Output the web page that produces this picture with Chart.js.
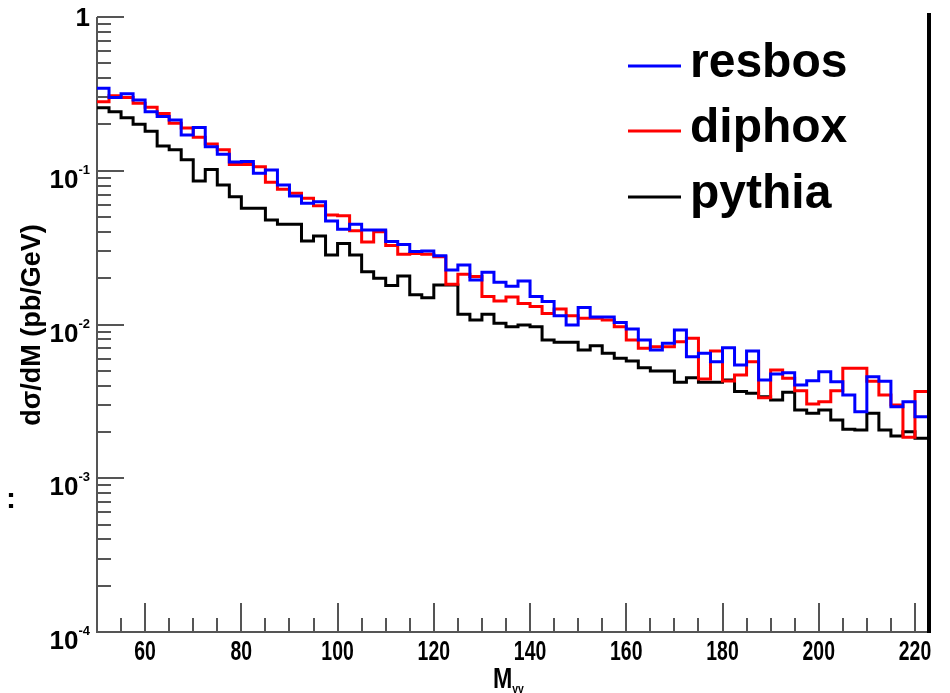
<!DOCTYPE html>
<html>
<head>
<meta charset="utf-8">
<title>Diphoton invariant mass</title>
<script src="https://cdn.jsdelivr.net/npm/chart.js@4.4.1/dist/chart.umd.min.js"></script>
<style>
  body { margin: 0; background: #fff; }
  #wrap { width: 950px; height: 693px; }
</style>
</head>
<body>
<div id="wrap"><canvas id="massChart" width="950" height="693"></canvas></div>
<script>
// histogram binning (GeV)
const massMin = 50;
const massMax = 222.5;
const binWidth = 2.5;

// dsigma/dM per bin
const resbos = [0.344, 0.299, 0.317, 0.289, 0.242, 0.225, 0.214, 0.171, 0.191, 0.143,
  0.128, 0.114, 0.115, 0.0962, 0.101, 0.0808, 0.0685, 0.0614, 0.0629, 0.0471,
  0.0416, 0.0448, 0.0412, 0.0412, 0.0346, 0.0332, 0.0298, 0.0301, 0.0280, 0.0226,
  0.0244, 0.0195, 0.0219, 0.0188, 0.0177, 0.0192, 0.0152, 0.0141, 0.0114, 0.00992,
  0.0129, 0.0112, 0.0112, 0.0103, 0.00935, 0.00793, 0.00683, 0.00755, 0.00921, 0.00618,
  0.00650, 0.00573, 0.00707, 0.00545, 0.00672, 0.00436, 0.00476, 0.00486, 0.00404, 0.00431,
  0.00493, 0.00425, 0.00348, 0.00271, 0.00458, 0.00428, 0.00292, 0.00315, 0.00251];

const diphox = [0.281, 0.308, 0.299, 0.275, 0.259, 0.236, 0.204, 0.190, 0.165, 0.149,
  0.137, 0.110, 0.110, 0.106, 0.0841, 0.0757, 0.0713, 0.0662, 0.0593, 0.0516,
  0.0510, 0.0407, 0.0344, 0.0401, 0.0326, 0.0286, 0.0290, 0.0286, 0.0276, 0.0183,
  0.0212, 0.0205, 0.0152, 0.0142, 0.0151, 0.0137, 0.0131, 0.0118, 0.0126, 0.0114,
  0.0110, 0.0110, 0.0107, 0.00968, 0.00793, 0.00700, 0.00717, 0.00717, 0.00773, 0.00813,
  0.00442, 0.00672, 0.00429, 0.00469, 0.00573, 0.00334, 0.00506, 0.00447, 0.00371, 0.00304,
  0.00315, 0.00371, 0.00519, 0.00519, 0.00428, 0.00348, 0.00300, 0.00185, 0.00366];

const pythia = [0.257, 0.242, 0.221, 0.201, 0.181, 0.145, 0.137, 0.118, 0.0858, 0.102,
  0.0808, 0.0678, 0.0570, 0.0570, 0.0478, 0.0448, 0.0448, 0.0349, 0.0376, 0.0283,
  0.0337, 0.0283, 0.0220, 0.0200, 0.0179, 0.0207, 0.0156, 0.0149, 0.0181, 0.0181,
  0.01165, 0.0107, 0.01165, 0.0102, 0.00968, 0.00992, 0.00968, 0.00793, 0.00766, 0.00766,
  0.00683, 0.00728, 0.00650, 0.00603, 0.00579, 0.00524, 0.00498, 0.00498, 0.00421, 0.00451,
  0.00421, 0.00421, 0.00436, 0.00366, 0.00357, 0.00339, 0.00323, 0.00362, 0.00278, 0.00265,
  0.00278, 0.00239, 0.00208, 0.00206, 0.00265, 0.00206, 0.00188, 0.00201, 0.00182];

// axis ticks and labels
const xMajorTicks = [60, 80, 100, 120, 140, 160, 180, 200, 220];
const xTickLabels = ['60', '80', '100', '120', '140', '160', '180', '200', '220'];
const xMinorTicks = [55, 65, 70, 75, 85, 90, 95, 105, 110, 115, 125, 130, 135, 145, 150, 155,
  165, 170, 175, 185, 190, 195, 205, 210, 215];
const yMajorTicks = [1, 0.1, 0.01, 0.001, 0.0001];
const yTickBase = ['1', '10', '10', '10', '10'];
const yTickExp = ['', '-1', '-2', '-3', '-4'];
const yMinorFactors = [2, 3, 4, 5, 6, 7, 8, 9];

const seriesNames = ['resbos', 'diphox', 'pythia'];
const seriesColors = ['#0000ff', '#ff0000', '#000000'];

// turn bin contents into step points (left edges + closing right edge)
function toSteps(values) {
    const pts = values.map((v, i) => ({ x: massMin + i * binWidth, y: v }));
    pts.push({ x: massMax, y: values[values.length - 1] });
    return pts;
}

const axisGrey = '#555555';
const labelFont = "'Liberation Sans', 'DejaVu Sans', sans-serif";

/* ------------------ FRAME + TICKS (under the histograms) ------------------ */
const rootFrame = {
    id: 'rootFrame',
    beforeDatasetsDraw(chart) {
        const { ctx, chartArea: a, scales: { x, y } } = chart;
        ctx.save();
        ctx.strokeStyle = axisGrey;
        ctx.lineWidth = 2;

        // y ticks (inside, pointing right)
        ctx.beginPath();
        yMajorTicks.forEach(v => {
            const py = Math.round(y.getPixelForValue(v));
            ctx.moveTo(a.left, py);
            ctx.lineTo(a.left + 27, py);
            if (v < 1) {
                yMinorFactors.forEach(f => {
                    const my = Math.round(y.getPixelForValue(v * f));
                    ctx.moveTo(a.left, my);
                    ctx.lineTo(a.left + 14, my);
                });
            }
        });
        // x ticks (inside, pointing up)
        xMajorTicks.forEach(v => {
            const px = Math.round(x.getPixelForValue(v));
            ctx.moveTo(px, a.bottom);
            ctx.lineTo(px, a.bottom - 29);
        });
        xMinorTicks.forEach(v => {
            const px = Math.round(x.getPixelForValue(v));
            ctx.moveTo(px, a.bottom);
            ctx.lineTo(px, a.bottom - 14);
        });
        ctx.stroke();

        // left + bottom axis lines
        ctx.beginPath();
        ctx.moveTo(a.left, a.top);
        ctx.lineTo(a.left, a.bottom);
        ctx.lineTo(a.right, a.bottom);
        ctx.stroke();
        ctx.restore();
    },

    /* ------------------ LABELS, LEGEND, RIGHT BORDER ------------------ */
    afterDraw(chart) {
        const { ctx, chartArea: a, scales: { x, y } } = chart;
        ctx.save();

        // thick right border
        ctx.strokeStyle = '#000';
        ctx.lineWidth = 4;
        ctx.beginPath();
        ctx.moveTo(a.right + 2, a.top - 4);
        ctx.lineTo(a.right + 2, a.bottom + 1);
        ctx.stroke();

        ctx.fillStyle = '#000';

        // x tick labels, squeezed like the original narrow digits
        ctx.font = `bold 27px ${labelFont}`;
        ctx.textAlign = 'center';
        ctx.textBaseline = 'top';
        xMajorTicks.forEach((v, i) => {
            ctx.save();
            ctx.translate(x.getPixelForValue(v), a.bottom + 7);
            ctx.scale(0.72, 1);
            ctx.fillText(xTickLabels[i], 0, 0);
            ctx.restore();
        });

        // y tick labels: "10" with a raised exponent
        yMajorTicks.forEach((v, i) => {
            const py = y.getPixelForValue(v);
            if (!yTickExp[i]) {
                ctx.font = `bold 26px ${labelFont}`;
                ctx.textAlign = 'right';
                ctx.textBaseline = 'middle';
                ctx.fillText(yTickBase[i], 90, py + 2);
                return;
            }
            ctx.font = `bold 13px ${labelFont}`;
            ctx.textAlign = 'left';
            ctx.textBaseline = 'alphabetic';
            const expW = ctx.measureText(yTickExp[i]).width;
            ctx.fillText(yTickExp[i], 90 - expW, py + 3);
            ctx.font = `bold 26px ${labelFont}`;
            ctx.textAlign = 'right';
            ctx.fillText(yTickBase[i], 90 - expW, py + 17);
        });

        // y axis title
        ctx.save();
        ctx.translate(33, 325);
        ctx.rotate(-Math.PI / 2);
        ctx.font = `bold 27px ${labelFont}`;
        ctx.textAlign = 'center';
        ctx.textBaseline = 'middle';
        ctx.fillText('dσ/dM (pb/GeV)', 0, 0);
        ctx.restore();

        // stray colon left of the title
        ctx.font = `bold 30px ${labelFont}`;
        ctx.textAlign = 'center';
        ctx.textBaseline = 'middle';
        ctx.fillText(':', 11, 500);

        // x axis title M_γγ
        ctx.save();
        ctx.translate(493, 688);
        ctx.scale(0.8, 1);
        ctx.font = `bold 29px ${labelFont}`;
        ctx.textAlign = 'left';
        ctx.textBaseline = 'alphabetic';
        ctx.fillText('M', 0, 0);
        const mW = ctx.measureText('M').width;
        ctx.font = `bold 13px ${labelFont}`;
        ctx.fillText('γγ', mW, 5);
        ctx.restore();

        // legend
        const rows = [66, 131, 197];
        chart.data.datasets.forEach((ds, i) => {
            ctx.strokeStyle = ds.borderColor;
            ctx.lineWidth = 3;
            ctx.beginPath();
            ctx.moveTo(628, rows[i]);
            ctx.lineTo(681, rows[i]);
            ctx.stroke();
            ctx.font = `bold 48px ${labelFont}`;
            ctx.textAlign = 'left';
            ctx.textBaseline = 'middle';
            ctx.fillStyle = '#000';
            ctx.fillText(ds.label, 690, rows[i] - 2);
        });

        ctx.restore();
    }
};

const seriesValues = [resbos, diphox, pythia];

new Chart(document.getElementById('massChart'), {
    type: 'line',
    data: {
        datasets: seriesValues.map((vals, i) => ({
            label: seriesNames[i],
            data: toSteps(vals),
            borderColor: seriesColors[i],
            borderWidth: 3,
            stepped: 'before',   // hold each bin value until the next edge
            pointRadius: 0,
            fill: false,
            order: i
        }))
    },
    options: {
        responsive: false,
        animation: false,
        devicePixelRatio: 1,
        layout: { padding: { left: 97, right: 23, top: 17, bottom: 61 } },
        scales: {
            x: { type: 'linear', min: massMin, max: massMax, display: false },
            y: { type: 'logarithmic', min: 0.0001, max: 1, display: false }
        },
        plugins: {
            legend: { display: false },
            tooltip: { enabled: false }
        }
    },
    plugins: [rootFrame]
});
</script>
</body>
</html>
